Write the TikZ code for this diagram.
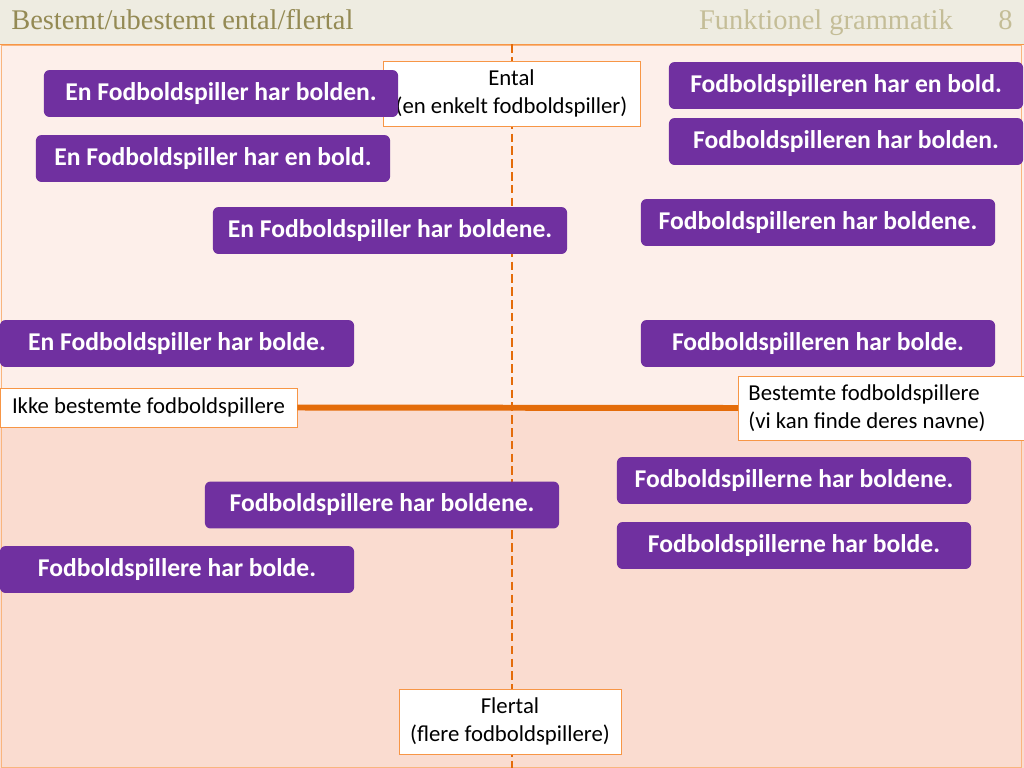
\documentclass[tikz,border=0pt]{standalone}
\usepackage{fontspec}
\setmainfont{Carlito}
\newfontfamily\headfont{Liberation Serif}
\usepackage[HTML]{xcolor}
\usetikzlibrary{positioning}
\definecolor{sentpurple}{HTML}{7030A0}
\definecolor{axisorange}{HTML}{E46C0A}
\definecolor{frameorange}{HTML}{F79646}
\definecolor{headbg}{HTML}{EEECE1}
\definecolor{topbg}{HTML}{FDEFEA}
\definecolor{lowbg}{HTML}{FADCD0}
\definecolor{headtext}{HTML}{948A54}
\definecolor{headlight}{HTML}{C4BD97}

\begin{document}
\begin{tikzpicture}[x={(0.703pt,0)}, y={(0,-0.703pt)},
  sent/.style={fill=sentpurple, rounded corners=4pt, text=white,
    font=\fontsize{18}{21}\selectfont\bfseries,
    minimum width=249pt, minimum height=33pt, inner sep=0pt},
  axislabel/.style={fill=white, draw=frameorange, line width=0.6pt,
    font=\fontsize{16}{19.5}\selectfont, inner sep=0pt, align=center},
  headline/.style={font=\headfont\fontsize{20}{24}\selectfont, inner sep=0pt}]
% background
\useasboundingbox (0,0) rectangle (1024,768);
\fill[headbg] (0,0) rectangle (1024,44);
\fill[topbg] (0,44) rectangle (1024,407);
\fill[lowbg] (0,407) rectangle (1024,768);
\draw[frameorange!70, line width=0.5pt] (1.5,45) rectangle (1021,767);
\draw[frameorange, line width=1pt] (0,44.5)--(1024,44.5);
% header
\node[headline, anchor=base west, text=headtext] (title) at (11,29) {Bestemt/ubestemt ental/flertal};
\node[headline, anchor=base east, text=headlight] (subject) at (953,29) {Funktionel grammatik};
\node[headline, anchor=base east, text=headlight] (pageno) at (1013,29) {8};
% axes
\coordinate (top) at (512,44);
\coordinate (bottom) at (512,768);
\draw[axisorange, line width=1.4pt, dash pattern=on 6pt off 3pt] (top)--(bottom);
\node[axislabel, minimum width=180.7pt, minimum height=45.7pt] (ental) at (511.5,93.5) {Ental\\(en enkelt fodboldspiller)};
\node[axislabel, minimum width=156pt, minimum height=45.7pt] (flertal) at (510,721.5) {Flertal\\(flere fodboldspillere)};
\node[axislabel, minimum width=208.8pt, minimum height=27.4pt] (ikke) at (148.5,407.5) {Ikke bestemte fodboldspillere};
\node[axislabel, anchor=west, align=flush left, inner xsep=7pt, text width=187pt, minimum height=45pt] (bestemt) at (738,408) {Bestemte fodboldspillere\\(vi kan finde deres navne)};
\draw[axisorange, line width=4.2pt] (ikke.east)--(bestemt.west);
% sentences, ental
\node[sent] (s1) at (221,93.5) {En Fodboldspiller har bolden.};
\node[sent] (s2) at (213,158.5) {En Fodboldspiller har en bold.};
\node[sent] (s3) at (390,230.5) {En Fodboldspiller har boldene.};
\node[sent] (s4) at (177,343.5) {En Fodboldspiller har bolde.};
\node[sent] (s5) at (846,85.5) {Fodboldspilleren har en bold.};
\node[sent] (s6) at (846,141.5) {Fodboldspilleren har bolden.};
\node[sent] (s7) at (818,222.5) {Fodboldspilleren har boldene.};
\node[sent] (s8) at (818,343.5) {Fodboldspilleren har bolde.};
% sentences, flertal
\node[sent] (s9) at (382,505) {Fodboldspillere har boldene.};
\node[sent] (s10) at (177,569.5) {Fodboldspillere har bolde.};
\node[sent] (s11) at (794,480.5) {Fodboldspillerne har boldene.};
\node[sent] (s12) at (794,545.5) {Fodboldspillerne har bolde.};
\end{tikzpicture}
\end{document}
